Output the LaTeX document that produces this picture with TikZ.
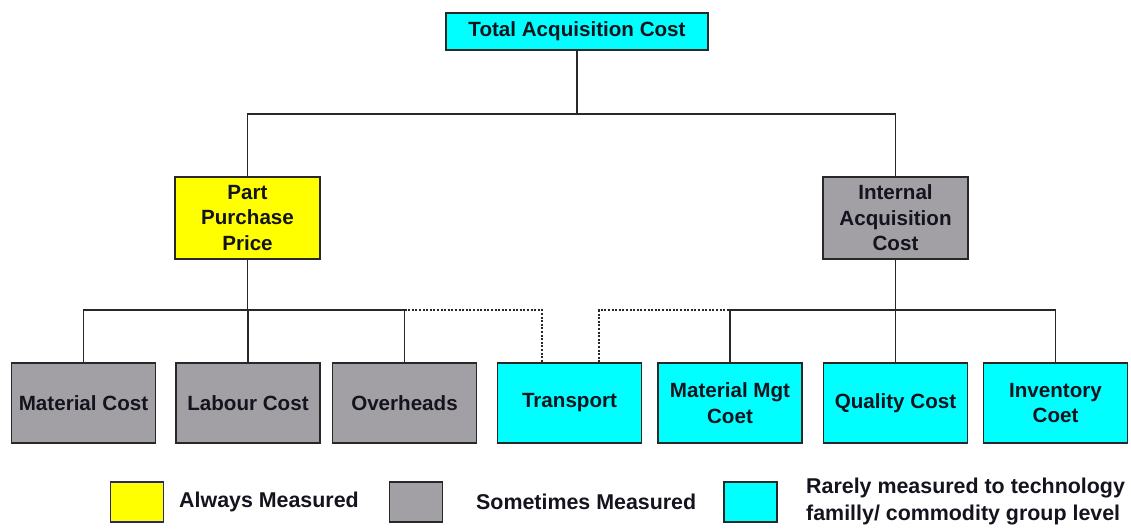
\documentclass[tikz,border=0pt]{standalone}
\usepackage{fontspec}
\setmainfont{Liberation Sans}
\definecolor{always}{RGB}{255,255,0}
\definecolor{sometimes}{RGB}{162,160,165}
\definecolor{rarely}{RGB}{0,255,255}
\definecolor{edge}{RGB}{40,40,40}
\definecolor{keyedge}{RGB}{45,40,110}
\definecolor{ink}{RGB}{20,20,30}
\begin{document}
\begin{tikzpicture}[x=1pt,y=-1pt,
  box/.style={draw=edge, line width=1.4pt, inner sep=0pt, align=center, text=ink,
              font=\bfseries\fontsize{20.6}{25.5}\selectfont},
  leaf/.style={box, minimum width=144pt, minimum height=80pt},
  branch/.style={box, minimum width=145pt, minimum height=82pt},
  link/.style={draw=edge, line width=1.4pt},
  dotlink/.style={draw=edge, line width=2pt, dash pattern=on 2pt off 1.6pt},
  key/.style={draw=edge, line width=1.4pt, minimum width=53pt, minimum height=40pt, inner sep=0pt},
  keytext/.style={anchor=west, inner sep=0pt, text=ink, align=left,
                  font=\bfseries\fontsize{21.4}{27}\selectfont}]

\useasboundingbox (0,0) rectangle (1131,529);

% root and second level
\node[box, fill=rarely, minimum width=262pt, minimum height=37pt] (total) at (577,31.5) {Total Acquisition Cost};
\node[branch, fill=always] (part) at (247.5,218) {Part\\Purchase\\Price};
\node[branch, fill=sometimes] (internal) at (895.5,218) {Internal\\Acquisition\\Cost};

% cost elements
\node[leaf, fill=sometimes] (matcost) at (83.5,403) {Material Cost};
\node[leaf, fill=sometimes] (labour) at (248,403) {Labour Cost};
\node[leaf, fill=sometimes] (overheads) at (404.5,403) {Overheads};
\node[leaf, fill=rarely] (transport) at (569.5,403) {Transport};
\node[leaf, fill=rarely] (matmgt) at (730,403) {Material Mgt\\Coet};
\node[leaf, fill=rarely] (quality) at (895.5,403) {Quality Cost};
\node[leaf, fill=rarely] (inventory) at (1055.5,403) {Inventory\\Coet};

% tree connectors
\coordinate (topbar) at (577,114);
\draw[link] (total.south) -- (topbar);
\draw[link] (part.north) |- (topbar) -| (internal.north);

\coordinate (leftbar) at (247.5,310);
\draw[link] (part.south) -- (leftbar);
\draw[link] (matcost.north) |- (leftbar) -| (overheads.north);
\draw[link] (labour.north) -- (labour.north |- leftbar);

\coordinate (rightbar) at (895.5,310);
\draw[link] (internal.south) -- (rightbar);
\draw[link] (matmgt.north) |- (rightbar) -| (inventory.north);
\draw[link] (quality.north) -- (rightbar);

% transport belongs to both branches
\coordinate (tleft) at ([xshift=-27.5pt]transport.north);
\coordinate (tright) at ([xshift=29.5pt]transport.north);
\draw[dotlink] (leftbar -| overheads.north) -| (tleft);
\draw[dotlink] (tright) |- (rightbar -| matmgt.north);

% key
\node[key, fill=always, draw=keyedge] (kalways) at (137,502) {};
\node[keytext] (talways) at (179,502) {Always Measured};
\node[key, fill=sometimes] (ksome) at (416,502) {};
\node[keytext] (tsome) at (476,502) {Sometimes Measured};
\node[key, fill=rarely] (krare) at (750.5,502) {};
\node[keytext] (trare) at (806,502) {Rarely measured to technology\\familly/ commodity group level};
\end{tikzpicture}
\end{document}
